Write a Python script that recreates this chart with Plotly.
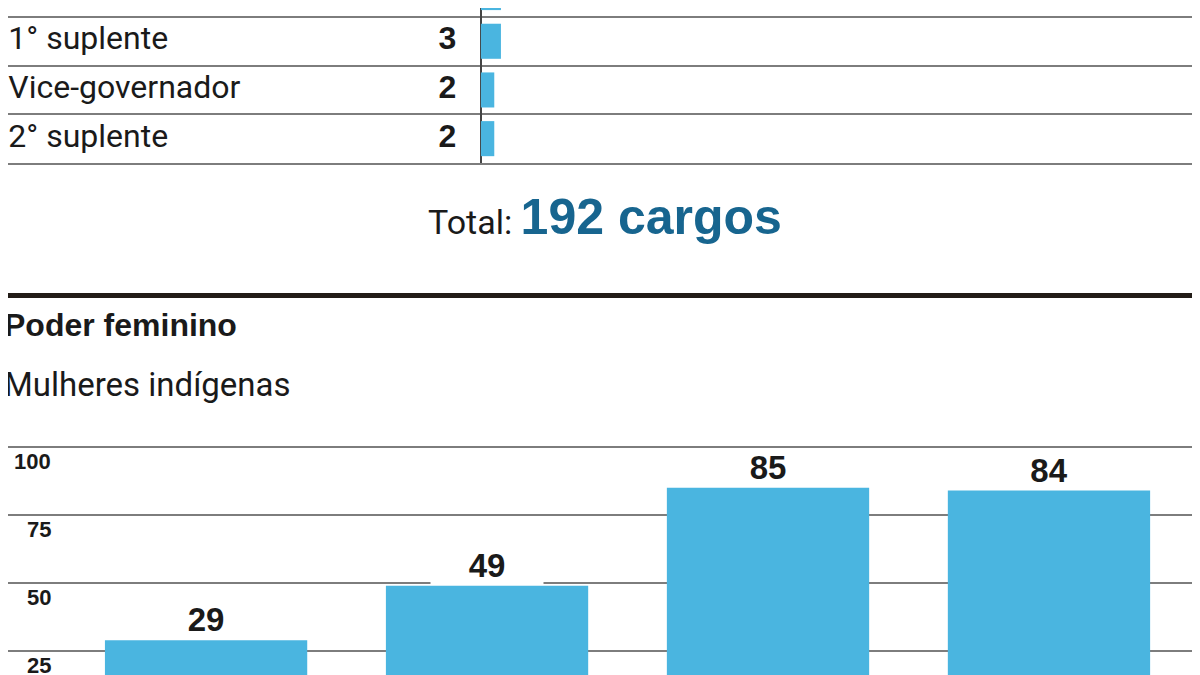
import plotly.graph_objects as go

# Cargos (parte visível da tabela)
cargos = ["Deputado Distrital", "1° suplente", "Vice-governador", "2° suplente"]
cargos_qtd = [3, 3, 2, 2]
total_cargos = 192

# Poder feminino - Mulheres indígenas
barras_idx = [0, 1, 2, 3]
mulheres = [29, 49, 85, 84]
eixo_ticks = [25, 50, 75, 100]

AZUL = "#4ab5e0"
AZUL_ESC = "#17658f"
TXT = "#1a1a1a"
GRADE = "#7d7d7d"
REG = "Roboto, sans-serif"
BOLD = "Liberation Sans, Arial, sans-serif"

fig = go.Figure()

# tabela de cargos
fig.add_trace(go.Bar(x=cargos_qtd, y=cargos, orientation="h", width=0.72,
                     marker=dict(color=AZUL, line=dict(width=0)),
                     xaxis="x", yaxis="y", hoverinfo="skip"))
fig.add_trace(go.Scatter(x=[-70.85] * len(cargos), y=cargos, mode="text", text=cargos,
                         textposition="middle right",
                         textfont=dict(family=REG, size=32, color=TXT),
                         cliponaxis=False, xaxis="x", yaxis="y", hoverinfo="skip"))
fig.add_trace(go.Scatter(x=[-3.7] * len(cargos), y=cargos, mode="text",
                         text=[str(v) for v in cargos_qtd], textposition="middle left",
                         textfont=dict(family=BOLD, size=32, color=TXT, weight="bold"),
                         cliponaxis=False, xaxis="x", yaxis="y", hoverinfo="skip"))

# mulheres indígenas
fig.add_trace(go.Bar(x=barras_idx, y=mulheres, width=0.72,
                     marker=dict(color=AZUL, line=dict(width=0)),
                     xaxis="x2", yaxis="y2", hoverinfo="skip"))

anns = []
for i, v in zip(barras_idx, mulheres):
    anns.append(dict(x=i, y=v, xref="x2", yref="y2", text="<b>%d</b>" % v, showarrow=False,
                     yanchor="bottom", yshift=1, bgcolor="white", borderpad=0, width=112,
                     font=dict(family=BOLD, size=33, color=TXT)))
for t in eixo_ticks:
    anns.append(dict(x=45 / 1200, y=t, xref="paper", yref="y2", text="<b>%d</b>" % t,
                     showarrow=False, xanchor="right", yanchor="top", yshift=0,
                     font=dict(family=BOLD, size=22, color=TXT)))

anns.append(dict(x=0.4975, y=0.646, xref="paper", yref="paper", showarrow=False,
                 yanchor="bottom",
                 text="Total: <span style='font-family:Liberation Sans, Arial, sans-serif;"
                      "font-weight:bold;font-size:50px;color:%s'>%d cargos</span>"
                      % (AZUL_ESC, total_cargos),
                 font=dict(family=REG, size=34, color=TXT)))
anns.append(dict(x=-0.005, y=0.560, xref="paper", yref="paper", xanchor="left",
                 yanchor="top", showarrow=False, text="<b>Poder feminino</b>",
                 font=dict(family=BOLD, size=32, color=TXT)))
anns.append(dict(x=-0.005, y=0.4735, xref="paper", yref="paper", xanchor="left",
                 yanchor="top", showarrow=False, text="Mulheres indígenas",
                 font=dict(family=REG, size=33, color=TXT)))

fig.update_layout(
    width=1200, height=675,
    margin=dict(l=0, r=0, t=0, b=0),
    paper_bgcolor="white", plot_bgcolor="white",
    showlegend=False,
    annotations=anns,
    shapes=[dict(type="line", xref="paper", yref="paper", x0=-0.01, x1=1,
                 y0=0.574, y1=0.574,
                 line=dict(color="#221c17", width=5))],
    xaxis=dict(domain=[0, 1], anchor="y", range=[-70.9, 109.0], showgrid=False,
               zeroline=True, zerolinecolor="#444444", zerolinewidth=2,
               showline=True, linecolor=GRADE, linewidth=2,
               showticklabels=False, fixedrange=True),
    yaxis=dict(domain=[1 - 155 / 675, 1], anchor="x", type="category",
               categoryorder="array", categoryarray=cargos,
               range=[3.5, 0.317], tickson="boundaries", ticks="",
               showgrid=True, gridcolor=GRADE, gridwidth=2,
               showticklabels=False, fixedrange=True),
    xaxis2=dict(domain=[0, 1], anchor="y2", range=[-0.705, 3.566], showgrid=False,
                zeroline=False, showticklabels=False, fixedrange=True),
    yaxis2=dict(domain=[0, 1 - 436.3 / 675], anchor="x2", range=[13.24, 101],
                tickvals=eixo_ticks, showgrid=True, gridcolor=GRADE, gridwidth=2,
                zeroline=False, showticklabels=False, fixedrange=True),
)

fig.write_html("out.html")
